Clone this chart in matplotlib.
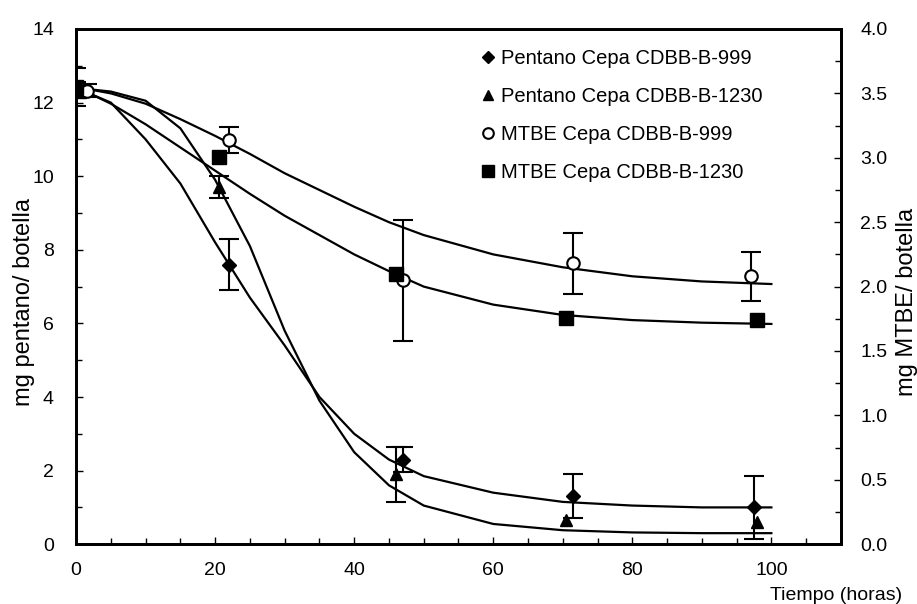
import numpy as np
import matplotlib
matplotlib.use('Agg')
import matplotlib.pyplot as plt
from matplotlib.ticker import MultipleLocator, FormatStrFormatter

plt.rcParams['font.family'] = ['Liberation Sans', 'DejaVu Sans']

# puntos medidos (tiempo en horas)
t_pent999 = [0, 22, 47, 71.5, 97.5]
pent999 = [12.4, 7.6, 2.3, 1.3, 1.0]
pent999_err = [0.15, 0.7, 0.35, 0.6, 0.85]

t_pent1230 = [0.5, 20.5, 46, 70.5, 98]
pent1230 = [12.3, 9.7, 1.9, 0.65, 0.6]
pent1230_err = [0.15, 0.3, 0.75, 0.0, 0.0]

t_mtbe999 = [1.5, 22, 47, 71.5, 97]
mtbe999 = [3.52, 3.14, 2.05, 2.18, 2.08]
mtbe999_err = [0.05, 0.1, 0.47, 0.24, 0.19]

t_mtbe1230 = [0, 20.5, 46, 70.5, 98]
mtbe1230 = [3.55, 3.01, 2.1, 1.76, 1.74]
mtbe1230_err = [0.15, 0.0, 0.0, 0.0, 0.0]

# curvas ajustadas
t_curva = [0, 5, 10, 15, 20, 25, 30, 35, 40, 45, 50, 60, 70, 80, 90, 100]
curva_pent999 = [12.4, 12.0, 11.0, 9.8, 8.2, 6.7, 5.4, 4.0, 3.0, 2.3, 1.85, 1.4, 1.15, 1.05, 1.0, 1.0]
curva_pent1230 = [12.4, 12.3, 12.05, 11.3, 9.9, 8.1, 5.8, 3.9, 2.5, 1.6, 1.05, 0.55, 0.38, 0.32, 0.3, 0.3]
curva_mtbe999 = [3.55, 3.5, 3.42, 3.3, 3.17, 3.03, 2.88, 2.75, 2.62, 2.5, 2.4, 2.25, 2.15, 2.08, 2.04, 2.02]
curva_mtbe1230 = [3.55, 3.42, 3.26, 3.08, 2.9, 2.72, 2.55, 2.4, 2.25, 2.12, 2.0, 1.86, 1.78, 1.74, 1.72, 1.71]

fig = plt.figure(figsize=(9.17, 6.04), dpi=100)
ax = fig.add_axes([0.083, 0.099, 0.834, 0.853])
ax2 = ax.twinx()

lw = 1.6
ax.plot(t_curva, curva_pent999, color='black', lw=lw)
ax.plot(t_curva, curva_pent1230, color='black', lw=lw)
ax2.plot(t_curva, curva_mtbe999, color='black', lw=lw)
ax2.plot(t_curva, curva_mtbe1230, color='black', lw=lw)


def puntos(a, t, y, err, **kw):
    # barras de error solo donde hay error
    t = np.array(t); y = np.array(y); err = np.array(err)
    m = err > 0
    a.errorbar(t[m], y[m], yerr=err[m], fmt='none', ecolor='black',
               elinewidth=1.5, capsize=7, capthick=1.5)
    return a.plot(t, y, linestyle='none', color='black', **kw)[0]


h1 = puntos(ax, t_pent999, pent999, pent999_err, marker='D', ms=7)
h2 = puntos(ax, t_pent1230, pent1230, pent1230_err, marker='^', ms=9)
h3 = puntos(ax2, t_mtbe999, mtbe999, mtbe999_err, marker='o', ms=9, mfc='white', mew=1.5)
h4 = puntos(ax2, t_mtbe1230, mtbe1230, mtbe1230_err, marker='s', ms=10)

ax.set_xlim(0, 110)
ax.set_ylim(0, 14)
ax2.set_ylim(0, 4)
ax.set_xticks([0, 20, 40, 60, 80, 100])
ax.xaxis.set_minor_locator(MultipleLocator(5))
ax.yaxis.set_major_locator(MultipleLocator(2))
ax.yaxis.set_minor_locator(MultipleLocator(1))
ax2.yaxis.set_major_locator(MultipleLocator(0.5))
ax2.yaxis.set_minor_locator(MultipleLocator(0.25))
ax2.yaxis.set_major_formatter(FormatStrFormatter('%.1f'))

ax.tick_params(which='both', direction='in', labelsize=14, width=1)
ax.tick_params(which='major', length=5)
ax.tick_params(which='minor', length=4)
ax.tick_params(axis='y', pad=16)
ax.tick_params(axis='x', pad=13)
ax2.tick_params(which='both', direction='in', labelsize=14, width=1, pad=14)
ax2.tick_params(which='major', length=5)
ax2.tick_params(which='minor', length=4)
for a in (ax, ax2):
    for s in a.spines.values():
        s.set_linewidth(2)

leg = ax.legend([h1, h2, h3, h4],
                ['Pentano Cepa CDBB-B-999', 'Pentano Cepa CDBB-B-1230',
                 'MTBE Cepa CDBB-B-999', 'MTBE Cepa CDBB-B-1230'],
                loc='upper left', bbox_to_anchor=(0.507, 0.997), frameon=False,
                fontsize=14.5, handlelength=0.6, handletextpad=0.35, labelspacing=0.95,
                markerscale=0.85)

fig.text(0.026, 0.50, 'mg pentano/ botella', rotation=90, ha='center', va='center', fontsize=17)
fig.text(0.989, 0.50, 'mg MTBE/ botella', rotation=90, ha='center', va='center', fontsize=17)
fig.text(0.84, 0.0, 'Tiempo (horas)', ha='left', va='bottom', fontsize=14)

fig.savefig('out.png', dpi=100)
